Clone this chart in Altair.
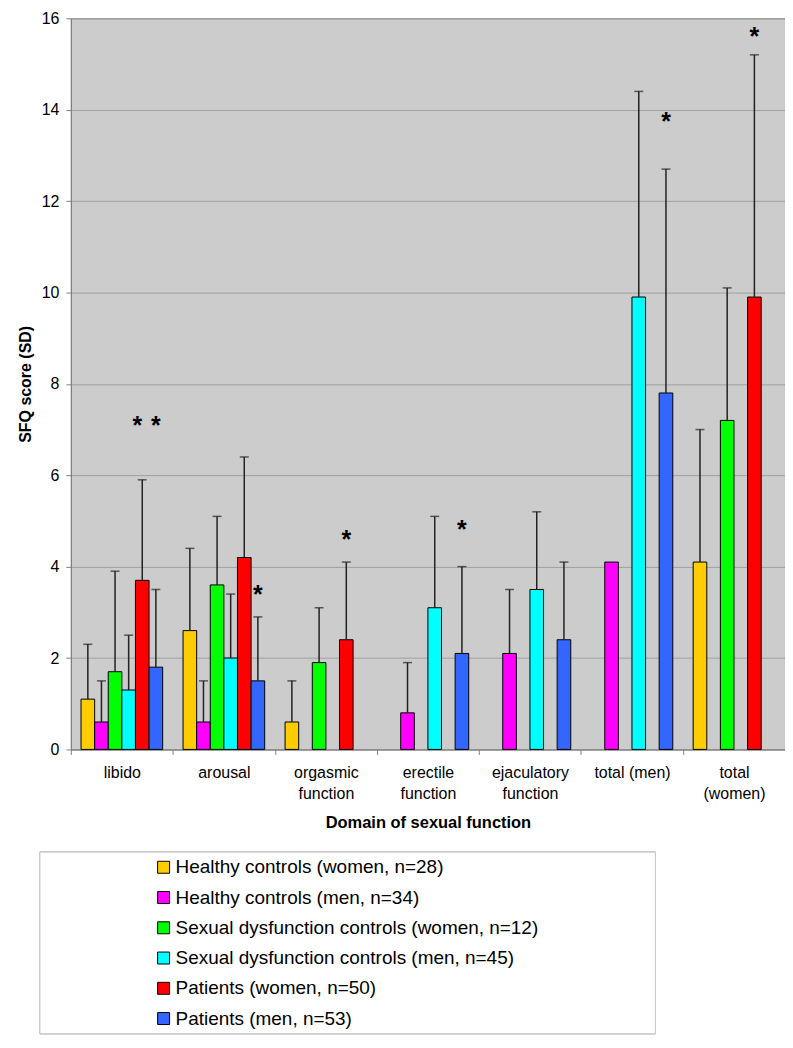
import altair as alt
import pandas as pd

categories = ["libido", "arousal", "orgasmic function", "erectile function",
              "ejaculatory function", "total (men)", "total (women)"]
series = ["Healthy controls (women, n=28)", "Healthy controls (men, n=34)",
          "Sexual dysfunction controls (women, n=12)", "Sexual dysfunction controls (men, n=45)",
          "Patients (women, n=50)", "Patients (men, n=53)"]
colors = ["#FFCC00", "#FF00FF", "#00FF00", "#00FFFF", "#FF0000", "#3366FF"]

means_hc_women = [1.1, 2.6, 0.6, None, None, None, 4.1]
sd_hc_women = [1.2, 1.8, 0.9, None, None, None, 2.9]
means_hc_men = [0.6, 0.6, None, 0.8, 2.1, 4.1, None]
sd_hc_men = [0.9, 0.9, None, 1.1, 1.4, None, None]
means_sdc_women = [1.7, 3.6, 1.9, None, None, None, 7.2]
sd_sdc_women = [2.2, 1.5, 1.2, None, None, None, 2.9]
means_sdc_men = [1.3, 2.0, None, 3.1, 3.5, 9.9, None]
sd_sdc_men = [1.2, 1.4, None, 2.0, 1.7, 4.5, None]
means_pat_women = [3.7, 4.2, 2.4, None, None, None, 9.9]
sd_pat_women = [2.2, 2.2, 1.7, None, None, None, 5.3]
means_pat_men = [1.8, 1.5, None, 2.1, 2.4, 7.8, None]
sd_pat_men = [1.7, 1.4, None, 1.9, 1.7, 4.9, None]

# significance asterisks (position of the asterisk centre)
star_categories = ["libido", "libido", "arousal", "orgasmic function",
                   "erectile function", "total (men)", "total (women)"]
star_series = [series[4], series[5], series[5], series[4], series[5], series[5], series[4]]
star_values = [7.17, 7.17, 3.46, 4.66, 4.88, 13.81, 15.68]

all_means = [means_hc_women, means_hc_men, means_sdc_women, means_sdc_men, means_pat_women, means_pat_men]
all_sds = [sd_hc_women, sd_hc_men, sd_sdc_women, sd_sdc_men, sd_pat_women, sd_pat_men]

rows = []
for s, ms, ss in zip(series, all_means, all_sds):
    for c, m, sd in zip(categories, ms, ss):
        if m is None:
            continue
        rows.append({"category": c, "series": s, "mean": m,
                     "sd": sd, "top": (m + sd) if sd is not None else None})
df = pd.DataFrame(rows)
stars = pd.DataFrame({"category": star_categories, "series": star_series, "mean": star_values,
                      "first": [True] + [False] * (len(star_values) - 1)})

FONT = "Liberation Sans"

x_enc = alt.X("category:N", sort=categories,
              scale=alt.Scale(domain=categories, paddingInner=0, paddingOuter=0),
              axis=alt.Axis(title="Domain of sexual function", labelAngle=0,
                            labelExpr="datum.extra || !isValid(datum.value) ? '' : (datum.value == 'total (men)' ? datum.value : split(datum.value, ' '))",
                            tickBand="extent", labelFontSize=16, labelColor="black",
                            labelLineHeight=21, labelPadding=10, tickSize=5,
                            tickColor="#808080", domainColor="#808080",
                            titleFontSize=16.5, titleFontWeight="bold", titlePadding=13,
                            titleColor="black", labelFont=FONT, titleFont=FONT))
xo_enc = alt.XOffset("series:N", sort=series,
                     scale=alt.Scale(domain=series, paddingInner=0, paddingOuter=0.75))
y_enc = alt.Y("mean:Q", scale=alt.Scale(domain=[0, 16], nice=False),
              axis=alt.Axis(title="SFQ score (SD)", values=list(range(0, 17, 2)),
                            labelFontSize=16, labelColor="black", labelPadding=7, tickSize=5,
                            tickColor="#808080", domainColor="#808080",
                            gridColor="#a0a0a0", gridWidth=1,
                            titleFontSize=16, titleFontWeight="bold", titlePadding=8,
                            titleColor="black", labelFont=FONT, titleFont=FONT))
color_enc = alt.Color("series:N", sort=series,
                      scale=alt.Scale(domain=series, range=colors), legend=None)

base = alt.Chart(df)
bars = base.mark_bar(stroke="black", strokeWidth=1).encode(
    x=x_enc, xOffset=xo_enc, y=y_enc, color=color_enc)
errs = base.transform_filter("isValid(datum.sd)").mark_rule(color="#222222", strokeWidth=1.5).encode(
    x=x_enc, xOffset=xo_enc, y="mean:Q", y2="top:Q")
caps = base.transform_filter("isValid(datum.sd)").mark_tick(
    color="#222222", thickness=1.5, size=9, orient="horizontal").encode(
    x=x_enc, xOffset=xo_enc, y="top:Q")
star_main = alt.Chart(stars).transform_filter("!datum.first").mark_text(
    text="*", fontSize=25, fontWeight="bold", dy=4, baseline="middle",
    color="black", font=FONT).encode(x=x_enc, xOffset=xo_enc, y="mean:Q")
star_first = alt.Chart(stars).transform_filter("datum.first").mark_text(
    text="*", fontSize=25, fontWeight="bold", dy=4, dx=-5, baseline="middle",
    color="black", font=FONT).encode(x=x_enc, xOffset=xo_enc, y="mean:Q")

main = alt.layer(bars, errs, caps, star_main, star_first).properties(
    width=716, height=733,
    view=alt.ViewBackground(fill="#cccccc", stroke="#808080"))

leg_df = pd.DataFrame({"series": series})
leg_y = alt.Y("series:N", sort=series,
              scale=alt.Scale(domain=series, paddingInner=0, paddingOuter=0.08), axis=None)
leg_frame = alt.Chart(leg_df).mark_rect(fill="white", stroke="#c8c8c8", strokeWidth=1).encode(
    x=alt.value(-31), x2=alt.value(586), y=alt.value(0), y2=alt.value(182))
leg_sq = alt.Chart(leg_df).mark_point(
    shape="square", filled=True, size=144, stroke="black", strokeWidth=1, opacity=1).encode(
    y=leg_y, x=alt.value(93), color=color_enc)
leg_tx = alt.Chart(leg_df).mark_text(
    align="left", baseline="middle", fontSize=19, color="black", font=FONT).encode(
    y=leg_y, x=alt.value(105), text="series:N")
legend = alt.layer(leg_frame, leg_sq, leg_tx).properties(
    width=560, height=182,
    view=alt.ViewBackground(fill=None, stroke=None))

chart = alt.vconcat(main, legend, spacing=20).properties(
    padding={"left": 8, "top": 0, "right": -1, "bottom": 0},
    background="white"
).configure(font=FONT)

chart.save("out.html", embed_options={"renderer": "svg", "actions": False})
